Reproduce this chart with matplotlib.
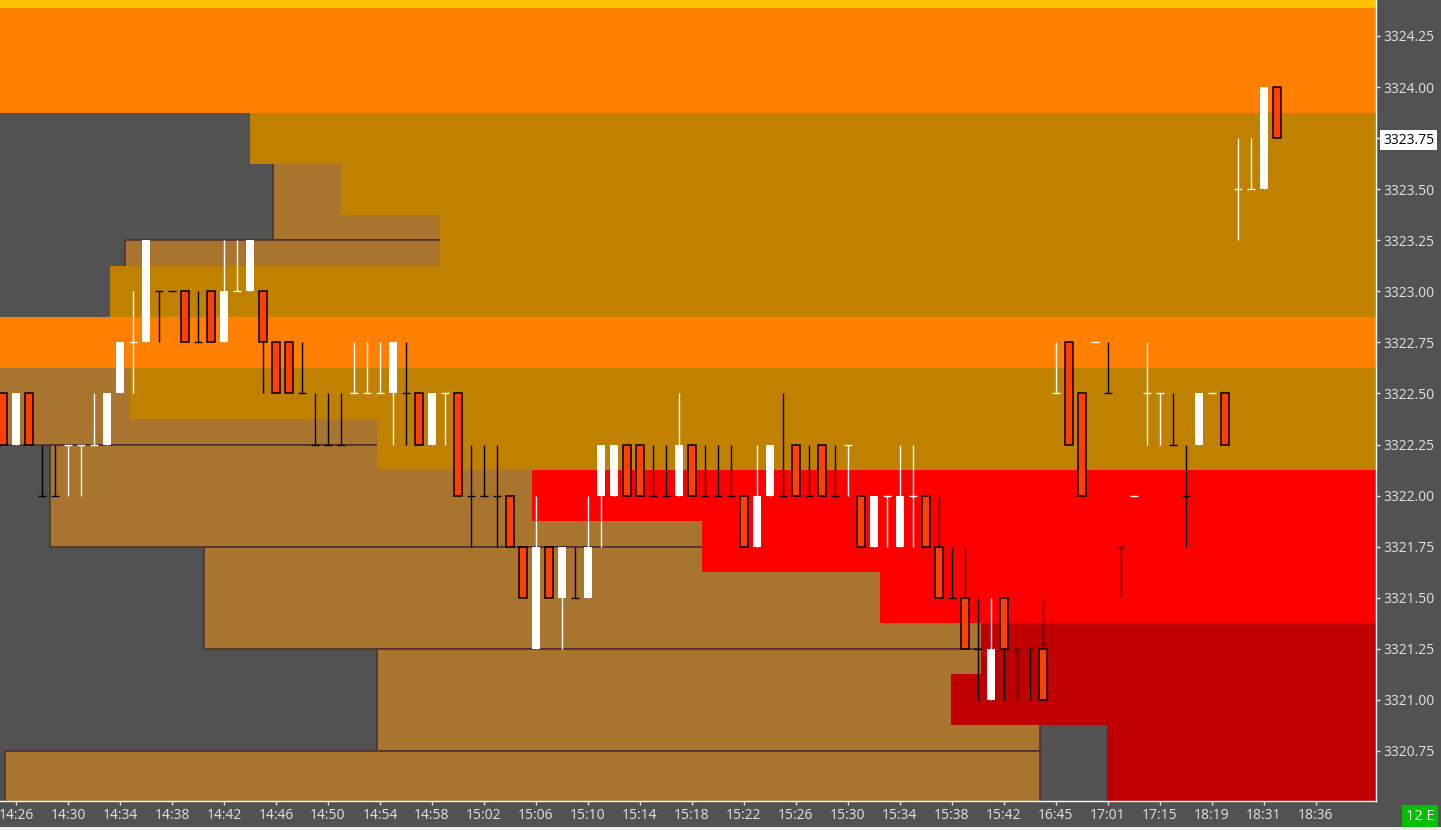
import matplotlib.pyplot as plt
from matplotlib.patches import Rectangle

plt.rcParams['font.family'] = ['Open Sans', 'DejaVu Sans']

# one bar per minute, x axis is the bar number (gaps after 15:42 are skipped)
time_labels = ["14:26", "14:30", "14:34", "14:38", "14:42", "14:46", "14:50", "14:54",
               "14:58", "15:02", "15:06", "15:10", "15:14", "15:18", "15:22", "15:26",
               "15:30", "15:34", "15:38", "15:42", "16:45", "17:01", "17:15", "18:19",
               "18:31", "18:36"]
label_bars = list(range(1, 102, 4))

opens = [3322.50, 3322.25, 3322.50, 3322.00, 3322.00, 3322.25, 3322.25, 3322.25, 3322.25, 3322.50,
         3322.75, 3322.75, 3323.00, 3323.00, 3323.00, 3322.75, 3323.00, 3322.75, 3323.00, 3323.00,
         3323.00, 3322.75, 3322.75, 3322.50, 3322.25, 3322.25, 3322.25, 3322.50, 3322.50, 3322.50,
         3322.50, 3322.50, 3322.50, 3322.25, 3322.50, 3322.50, 3322.00, 3322.00, 3322.00, 3322.00,
         3321.75, 3321.25, 3321.75, 3321.50, 3321.50, 3321.50, 3322.00, 3322.00, 3322.25, 3322.25,
         3322.00, 3322.00, 3322.00, 3322.25, 3322.00, 3322.00, 3322.00, 3322.00, 3321.75, 3322.00,
         3322.00, 3322.25, 3322.00, 3322.25, 3322.00, 3322.25, 3322.00, 3321.75, 3322.00, 3321.75,
         3322.00, 3322.00, 3321.75, 3321.50, 3321.50, 3321.25, 3321.00, 3321.50, 3321.25, 3321.25,
         3321.25, 3322.50, 3322.75, 3322.50, 3322.75, 3322.50, 3321.75, 3322.00, 3322.50, 3322.50,
         3322.25, 3322.00, 3322.25, 3322.50, 3322.50, 3323.50, 3323.50, 3323.50, 3324.00]
highs = [3322.50, 3322.50, 3322.50, 3322.25, 3322.25, 3322.25, 3322.25, 3322.50, 3322.50, 3322.75,
         3323.00, 3323.25, 3323.00, 3323.00, 3323.00, 3323.00, 3323.00, 3323.25, 3323.25, 3323.25,
         3323.00, 3322.75, 3322.75, 3322.75, 3322.50, 3322.50, 3322.50, 3322.75, 3322.75, 3322.75,
         3322.75, 3322.75, 3322.50, 3322.50, 3322.50, 3322.50, 3322.25, 3322.25, 3322.25, 3322.00,
         3321.75, 3322.00, 3321.75, 3321.75, 3321.75, 3322.00, 3322.25, 3322.25, 3322.25, 3322.25,
         3322.25, 3322.25, 3322.50, 3322.25, 3322.25, 3322.25, 3322.25, 3322.00, 3322.25, 3322.25,
         3322.50, 3322.25, 3322.25, 3322.25, 3322.25, 3322.25, 3322.00, 3322.00, 3322.00, 3322.25,
         3322.25, 3322.00, 3322.00, 3321.75, 3321.75, 3321.50, 3321.50, 3321.50, 3321.25, 3321.25,
         3321.50, 3322.75, 3322.75, 3322.50, 3322.75, 3322.75, 3321.75, 3322.00, 3322.75, 3322.50,
         3322.50, 3322.25, 3322.50, 3322.50, 3322.50, 3323.75, 3323.75, 3324.00, 3324.00]
lows = [3322.25, 3322.25, 3322.25, 3322.00, 3322.00, 3322.00, 3322.00, 3322.25, 3322.25, 3322.50,
        3322.50, 3322.75, 3322.75, 3323.00, 3322.75, 3322.75, 3322.75, 3322.75, 3323.00, 3323.00,
        3322.50, 3322.50, 3322.50, 3322.50, 3322.25, 3322.25, 3322.25, 3322.50, 3322.50, 3322.50,
        3322.25, 3322.25, 3322.25, 3322.25, 3322.25, 3322.00, 3321.75, 3322.00, 3321.75, 3321.75,
        3321.50, 3321.25, 3321.50, 3321.25, 3321.50, 3321.50, 3321.75, 3322.00, 3322.00, 3322.00,
        3322.00, 3322.00, 3322.00, 3322.00, 3322.00, 3322.00, 3322.00, 3321.75, 3321.75, 3322.00,
        3322.00, 3322.00, 3322.00, 3322.00, 3322.00, 3322.00, 3321.75, 3321.75, 3321.75, 3321.75,
        3321.75, 3321.75, 3321.50, 3321.50, 3321.25, 3321.00, 3321.00, 3321.00, 3321.00, 3321.00,
        3321.00, 3322.50, 3322.25, 3322.00, 3322.75, 3322.50, 3321.50, 3322.00, 3322.25, 3322.25,
        3322.25, 3321.75, 3322.25, 3322.50, 3322.25, 3323.25, 3323.50, 3323.50, 3323.75]
closes = [3322.25, 3322.50, 3322.25, 3322.00, 3322.00, 3322.25, 3322.25, 3322.25, 3322.50, 3322.75,
          3322.75, 3323.25, 3323.00, 3323.00, 3322.75, 3322.75, 3322.75, 3323.00, 3323.00, 3323.25,
          3322.75, 3322.50, 3322.50, 3322.50, 3322.25, 3322.25, 3322.25, 3322.50, 3322.50, 3322.50,
          3322.75, 3322.50, 3322.25, 3322.50, 3322.50, 3322.00, 3322.00, 3322.00, 3322.00, 3321.75,
          3321.50, 3321.75, 3321.50, 3321.75, 3321.50, 3321.75, 3322.25, 3322.25, 3322.00, 3322.00,
          3322.00, 3322.00, 3322.25, 3322.00, 3322.00, 3322.00, 3322.00, 3321.75, 3322.00, 3322.25,
          3322.00, 3322.00, 3322.00, 3322.00, 3322.00, 3322.25, 3321.75, 3322.00, 3322.00, 3322.00,
          3322.00, 3321.75, 3321.50, 3321.50, 3321.25, 3321.25, 3321.25, 3321.25, 3321.25, 3321.25,
          3321.00, 3322.50, 3322.25, 3322.00, 3322.75, 3322.50, 3321.75, 3322.00, 3322.50, 3322.50,
          3322.25, 3322.00, 3322.50, 3322.50, 3322.25, 3323.50, 3323.50, 3324.00, 3323.75]
# colour of the flat (open == close) bars: w = white, k = black
doji_tone = ("---kkwww--" "w-kk-k--w-" "---kkkkwww" "-k--w-kkk-" "----k-----"
             "kk--kkk---" "k-k-kw--w-" "w--k-k--kk" "-w--wkkwww" "kk-w-ww--")

price_ticks = [3320.75, 3321.00, 3321.25, 3321.50, 3321.75, 3322.00, 3322.25, 3322.50,
               3322.75, 3323.00, 3323.25, 3323.50, 3323.75, 3324.00, 3324.25]
last_price = 3323.75

# zones that run to the right edge: (low, high, first bar, kind)
bands = [
    (3324.385, 3325.000, -1.0, "yellow"),
    (3323.875, 3324.385, -1.0, "orange"),
    (3323.625, 3323.875, 19.0, "gold"),
    (3323.375, 3323.625, 26.0, "gold"),
    (3323.125, 3323.375, 33.6, "gold"),
    (3322.875, 3323.125, 8.2, "gold"),
    (3322.625, 3322.875, -1.0, "orange"),
    (3322.375, 3322.625, 9.8, "gold"),
    (3322.125, 3322.375, 28.8, "gold"),
    (3321.875, 3322.125, 40.7, "red"),
    (3321.625, 3321.875, 53.8, "red"),
    (3321.375, 3321.625, 67.5, "red"),
    (3321.125, 3321.375, 75.2, "darkred"),
    (3320.875, 3321.125, 72.9, "darkred"),
    (3320.000, 3320.875, 84.9, "darkred"),
]
# brown boxes under the zones: (first bar, last bar, low, high)
boxes = [
    (20.8, 34.5, 3323.25, 3323.75),
    (9.4, 34.5, 3322.75, 3323.25),
    (-1.0, 29.5, 3322.25, 3322.75),
    (3.6, 54.5, 3321.75, 3322.25),
    (15.5, 76.0, 3321.25, 3321.75),
    (28.8, 79.8, 3320.75, 3321.25),
    (0.15, 79.8, 3320.25, 3320.75),
]

zone_colors = {"yellow": "#FFC000", "orange": "#FF8000", "gold": "#C08000",
               "red": "#FF0000", "darkred": "#C00000"}
bg = "#525252"
txt = "#E2E2E2"

fig = plt.figure(figsize=(14.41, 8.30), dpi=100, facecolor=bg)
ax = fig.add_axes([0, 29 / 830, 1376 / 1441, 801 / 830], facecolor=bg)

for x0, x1, lo, hi in boxes:
    ax.add_patch(Rectangle((x0, lo), x1 - x0, hi - lo, facecolor="#A8742E",
                           edgecolor="#4A2E2E", lw=1.1, zorder=1))
for lo, hi, x0, kind in bands:
    ax.add_patch(Rectangle((x0, lo), 200, hi - lo, facecolor=zone_colors[kind],
                           edgecolor="none", zorder=2))

# candles
for i in range(len(opens)):
    o, h, l, c = opens[i], highs[i], lows[i], closes[i]
    if c > o:
        col = "white"
    elif c < o:
        col = "black"
    else:
        col = "white" if doji_tone[i] == "w" else "black"
    if h > l:
        ax.vlines(i, l, h, color=col, lw=1.0, zorder=3)
    if c > o:
        ax.bar(i, c - o, bottom=o, width=0.68, color="white", edgecolor="none", zorder=4)
    elif c < o:
        ax.bar(i, o - c, bottom=c, width=0.62, color="#FF4000", edgecolor="black",
               lw=1.1, zorder=4)
    else:
        ax.hlines(o, i - 0.34, i + 0.34, color=col, lw=1.0, zorder=4)

ax.set_xlim(-0.23, 105.62)
ax.set_ylim(3320.505, 3324.426)

ax.set_xticks(label_bars, time_labels)
ax.set_yticks(price_ticks, ["%.2f" % p for p in price_ticks])
ax.yaxis.tick_right()
ax.tick_params(axis="y", direction="out", length=3, width=1, color=txt,
               labelcolor=txt, labelsize=10, pad=2)
ax.tick_params(axis="x", direction="out", length=3, width=1, color=txt,
               labelcolor=txt, labelsize=10, pad=2)

for lab in ax.get_yticklabels():
    if lab.get_text() == "%.2f" % last_price:
        lab.set_color("black")
        lab.set_bbox(dict(facecolor="white", edgecolor="none", pad=2.0))

for side in ["left", "top"]:
    ax.spines[side].set_visible(False)
for side in ["right", "bottom"]:
    ax.spines[side].set_color("white")
    ax.spines[side].set_linewidth(1.0)

# small status badge and bottom strip
fig.text(1420 / 1441, 1 - 816 / 830, "12 E", color="white", fontsize=10.5,
         ha="center", va="center",
         bbox=dict(facecolor="#00C000", edgecolor="none", pad=2.8))
fig.patches.append(Rectangle((0, 0), 1, 3 / 830, transform=fig.transFigure,
                             facecolor="#F0F0F0", edgecolor="none"))

fig.savefig("out.png", dpi=100, facecolor=bg)
